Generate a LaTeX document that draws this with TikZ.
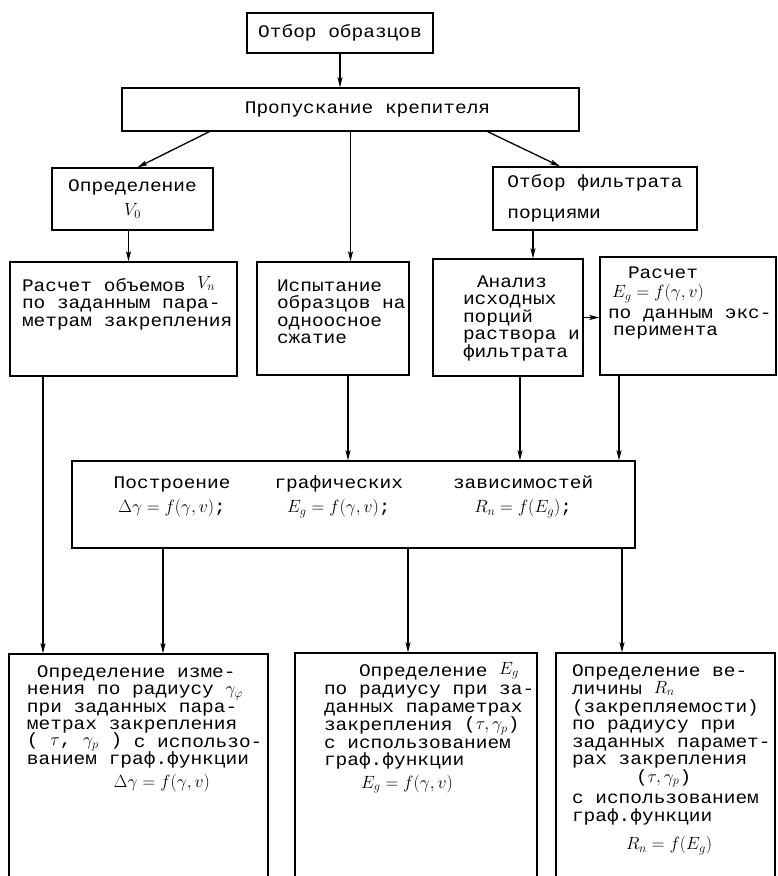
\RequirePackage{fix-cm}
\documentclass[tikz,border=0pt]{standalone}
\usepackage{fontspec}
\setmainfont{Liberation Mono}[FakeStretch=1.1]
\usetikzlibrary{arrows.meta}
\newcommand{\typesz}{\fontsize{17.7}{17.5}\selectfont}
\newcommand{\boxtext}[5]{\parbox[c][#2][t]{#1}{\lineskiplimit=-30pt\raggedright\leftskip=#3\relax\rule{0pt}{#4}#5}}
\begin{document}
\begin{tikzpicture}[x=1pt,y=1pt,
  box/.style={draw,line width=1.3pt,inner sep=0pt,font=\typesz},
  arr/.style={line width=1.3pt,-{Stealth[length=10pt,width=5pt,inset=2pt]}}]
\useasboundingbox (0,0) rectangle (777,-876);
\clip (0,0) rectangle (777,-876);
\node[box,minimum width=186pt,minimum height=40pt] (otbor) at (340,-33) {Отбор образцов};
\node[box,minimum width=457pt,minimum height=43pt] (propusk) at (350.5,-109.5) {\hspace*{34pt}Пропускание крепителя};
\node[box,minimum width=161pt,minimum height=62pt,align=center] (opredV) at (132.5,-199) {Определение\\[6pt]$V_0$};
\node[box,minimum width=204pt,minimum height=63pt,align=left] (otborF) at (595,-198.5) {Отбор фильтрата\\[13pt]порциями};
\node[box] (raschetV) at (123.5,-319) {\boxtext{227pt}{114pt}{12pt}{29pt}{Расчет объемов \raisebox{3pt}{$V_n$}\\по заданным пара-\\метрам закрепления}};
\node[box] (ispyt) at (333,-318.5) {\boxtext{152pt}{113pt}{20pt}{29pt}{Испытание\\образцов на\\одноосное\\сжатие}};
\node[box] (analiz) at (508,-317.5) {\boxtext{150pt}{117pt}{30pt}{28pt}{\hspace*{14pt}Анализ\\исходных\\порций\\раствора и\\фильтрата}};
\node[box] (raschetE) at (688,-316) {\boxtext{176pt}{118pt}{8pt}{21pt}{\hspace*{20pt}Расчет\\[2pt]\hspace*{4pt}$E_g=f(\gamma,v)$\\[3pt]по данным экс-\\\hspace*{5pt}перимента}};
\node[box,minimum width=563pt,minimum height=87pt] (postr) at (353.5,-504.5) {\begin{tabular}{@{}c@{\hspace{44pt}}c@{\hspace{50pt}}c@{}}Построение&графических&зависимостей\\[6pt]$\Delta\gamma=f(\gamma,v)$;&$E_g=f(\gamma,v)$;&$R_n=f(E_g)$;\rule[-21pt]{0pt}{0pt}\end{tabular}};
\node[box] (izmen) at (138.5,-777) {\boxtext{259pt}{246pt}{18pt}{23pt}{\hspace*{10pt}Определение изме-\\нения по радиусу $\gamma_\varphi$\\при заданных пара-\\метрах закрепления\\\raisebox{1.5pt}{( $\tau$, $\gamma_p$ )} с использо-\\ванием граф.функции\\[5pt]\hspace*{87pt}$\Delta\gamma=f(\gamma,v)$}};
\node[box] (opredE) at (416,-776.5) {\boxtext{242pt}{247pt}{29pt}{23pt}{\hspace*{35pt}Определение \raisebox{2pt}{$E_g$}\\[1pt]по радиусу при за-\\данных параметрах\\[1pt]закрепления \raisebox{1pt}{($\tau,\gamma_p$)}\\с использованием\\граф.функции\\[5pt]\hspace*{37pt}$E_g=f(\gamma,v)$}};
\node[box] (opredR) at (665.5,-776.5) {\boxtext{219pt}{247pt}{16pt}{23pt}{Определение ве-\\[1pt]личины \raisebox{1.5pt}{$R_n$}\\(закрепляемости)\\по радиусу при\\заданных парамет-\\рах закрепления\\\hspace*{64pt}($\tau,\gamma_p$)\\[4pt]с использованием\\граф.функции\\[11pt]\hspace*{54pt}$R_n=f(E_g)$}};

\draw[arr] (otbor.south) -- (otbor.south |- propusk.north);
\draw[arr] ([xshift=88pt]propusk.south west) -- ([xshift=5pt]opredV.north);
\draw[arr] (propusk.south) -- (propusk.south |- ispyt.north);
\draw[arr] ([xshift=-92pt]propusk.south east) -- ([xshift=-35pt]otborF.north);
\draw[arr] ([xshift=-4pt]opredV.south) -- ([xshift=-4pt]opredV.south |- raschetV.north);
\draw[arr] ([xshift=-62pt]otborF.south) -- ([xshift=-62pt]otborF.south |- analiz.north);
\draw[arr] (analiz.east) -- (analiz.east -| raschetE.west);
\draw[arr] ([xshift=-80.5pt]raschetV.south) -- ([xshift=-80.5pt]raschetV.south |- izmen.north);
\draw[arr] ([xshift=15pt]ispyt.south) -- ([xshift=15pt]ispyt.south |- postr.north);
\draw[arr] ([xshift=12pt]analiz.south) -- ([xshift=12pt]analiz.south |- postr.north);
\draw[arr] ([xshift=-69pt]raschetE.south) -- ([xshift=-69pt]raschetE.south |- postr.north);
\draw[arr] ([xshift=-190.5pt]postr.south) -- ([xshift=-190.5pt]postr.south |- izmen.north);
\draw[arr] ([xshift=54.5pt]postr.south) -- ([xshift=54.5pt]postr.south |- opredE.north);
\draw[arr] ([xshift=268.5pt]postr.south) -- ([xshift=268.5pt]postr.south |- opredR.north);
\end{tikzpicture}
\end{document}
